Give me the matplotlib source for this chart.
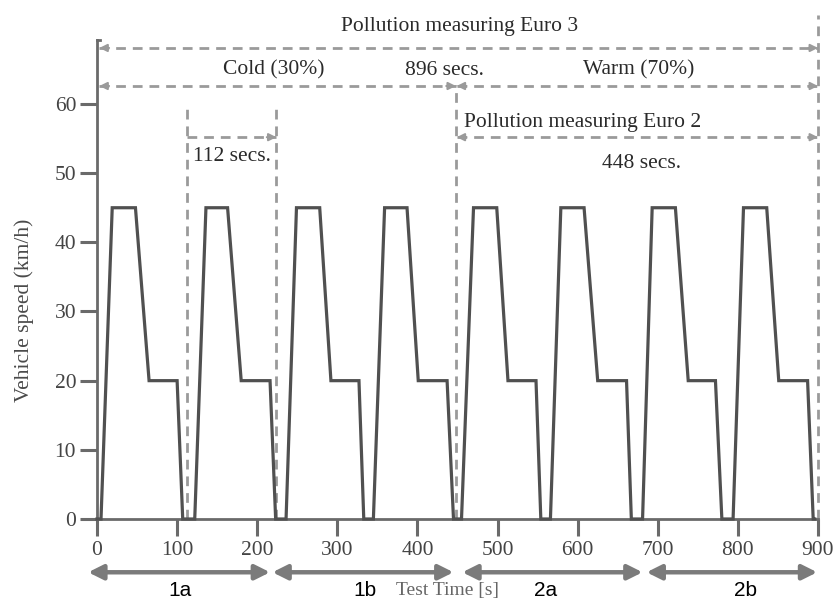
import matplotlib
matplotlib.use("Agg")
import matplotlib.pyplot as plt

# ---- data ----
time_s = [0, 5, 19, 48, 65, 100, 107,
          122, 136, 163, 180, 216, 223,
          236, 249, 278, 292, 327, 333,
          345, 359, 387, 401, 437, 445,
          455, 470, 499, 513, 548, 554,
          566, 579, 608, 625, 661, 667,
          681, 693, 722, 738, 772, 780,
          794, 807, 836, 851, 887, 894, 896]
speed_kmh = [0, 0, 45, 45, 20, 20, 0,
             0, 45, 45, 20, 20, 0,
             0, 45, 45, 20, 20, 0,
             0, 45, 45, 20, 20, 0,
             0, 45, 45, 20, 20, 0,
             0, 45, 45, 20, 20, 0,
             0, 45, 45, 20, 20, 0,
             0, 45, 45, 20, 20, 0, 0]
x_ticks = [0, 100, 200, 300, 400, 500, 600, 700, 800, 900]
y_ticks = [0, 10, 20, 30, 40, 50, 60]
phase_labels = ["1a", "1b", "2a", "2b"]
phase_start = [-11, 219, 456, 686]
phase_end = [216, 445, 681, 899]
total_secs = 896
half_secs = 448
cycle_secs = 112

SERIF = ["Liberation Serif", "DejaVu Serif"]
TRACE = "#505050"
DASH = "#9a9a9a"
AXC = "#6a6a6a"
TXT = "#2a2a2a"

fig = plt.figure(figsize=(8.37, 6.12), dpi=100)
ax = fig.add_axes([97 / 837, 1 - 519 / 612, 721 / 837, 479 / 612])
ax.set_xlim(0, 900)
ax.set_ylim(0, 69.25)

ax.plot(time_s, speed_kmh, color=TRACE, lw=2.3, solid_joinstyle="miter", zorder=3, clip_on=False)

for s in ["top", "right"]:
    ax.spines[s].set_visible(False)
for s in ["left", "bottom"]:
    ax.spines[s].set_color(AXC)
    ax.spines[s].set_linewidth(2.0)

ax.set_xticks(x_ticks)
ax.set_yticks(y_ticks)
ax.tick_params(axis="both", direction="out", length=12, width=2.2, color=AXC,
               labelcolor="#444444", labelsize=15.5)
ax.tick_params(axis="x", pad=4)
ax.tick_params(axis="y", pad=3)
for lab in ax.get_xticklabels() + ax.get_yticklabels():
    lab.set_family(SERIF)

ax.set_ylabel("Vehicle speed (km/h)", family=SERIF, fontsize=15.5, color="#4a4a4a")
ax.yaxis.set_label_coords(-0.088, 0.436)

# top cap of y axis
ax.plot([0, 4], [69.25, 69.25], color=AXC, lw=2.0, clip_on=False)

dash_ls = (0, (3.5, 2.5))

def dashed_arrow(x0, x1, y, left=True, right=True):
    ax.plot([x0, x1], [y, y], color=DASH, lw=2.0, ls=dash_ls, clip_on=False, zorder=2)
    if left:
        ax.annotate("", xy=(x0, y), xytext=(x0 + 12, y),
                    arrowprops=dict(arrowstyle="-|>", color=DASH, lw=1.5, mutation_scale=11,
                                    shrinkA=0, shrinkB=0), annotation_clip=False)
    if right:
        ax.annotate("", xy=(x1, y), xytext=(x1 - 12, y),
                    arrowprops=dict(arrowstyle="-|>", color=DASH, lw=1.5, mutation_scale=11,
                                    shrinkA=0, shrinkB=0), annotation_clip=False)

def vdash(x, ytop):
    ax.plot([x, x], [0, ytop], color=DASH, lw=2.0, ls=dash_ls, clip_on=False, zorder=2)

# vertical markers
vdash(cycle_secs, 59.5)
vdash(2 * cycle_secs, 59.5)
vdash(half_secs, 62.8)
vdash(900, 72.9)

# horizontal spans
dashed_arrow(3, 900, 68.1)
dashed_arrow(3, half_secs, 62.6)
dashed_arrow(half_secs + 1, 900, 62.6)
dashed_arrow(half_secs + 1, 900, 55.2)
dashed_arrow(cycle_secs, 2 * cycle_secs, 55.2, left=False)

tk = dict(family=SERIF, fontsize=15.5, color=TXT, ha="center", va="center", clip_on=False)
ax.text(452, 71.2, "Pollution measuring Euro 3", **tk)
ax.text(221, 64.9, "Cold (30%)", **tk)
ax.text(434, 64.9, f"{total_secs} secs.", **tk)
ax.text(676, 64.9, "Warm (70%)", **tk)
ax.text(606, 57.3, "Pollution measuring Euro 2", **tk)
ax.text(680, 51.4, f"{half_secs} secs.", **tk)
ax.text(168, 52.4, f"{cycle_secs} secs.", **tk)

# phase arrows below the axis
for a, b in zip(phase_start, phase_end):
    ax.annotate("", xy=(a, -7.7), xytext=(b, -7.7),
                arrowprops=dict(arrowstyle="<|-|>", color="#7b7b7b", lw=3.2,
                                mutation_scale=22, shrinkA=0, shrinkB=0),
                annotation_clip=False)
label_x = [104, 335, 560, 810]
for lab, lx in zip(phase_labels, label_x):
    ax.text(lx, -10.4, lab, family=["Liberation Sans", "DejaVu Sans"], fontsize=15,
            color="black", ha="center", va="center", clip_on=False)
ax.text(438, -10.4, "Test Time [s]", family=SERIF, fontsize=14, color="#666666",
        ha="center", va="center", clip_on=False)

fig.savefig("out.png", dpi=100)
